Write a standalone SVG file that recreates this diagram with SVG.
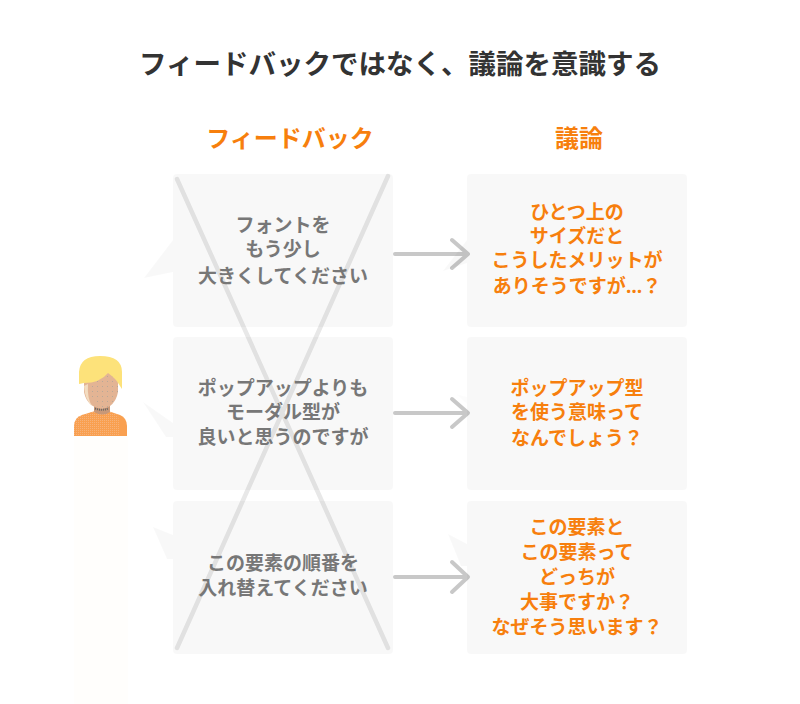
<svg xmlns="http://www.w3.org/2000/svg" width="800" height="704" viewBox="0 0 800 704">
<style>
text{font-family:"Noto Sans CJK JP","Noto Sans",sans-serif;font-weight:700;text-anchor:middle}
.t{font-size:27.5px;fill:#333}
.h{font-size:24px;fill:#f77f0d}
.g{font-size:19px;fill:#777}
.o{font-size:19px;fill:#f77f0d}
.box,.tail{fill:#000;fill-opacity:.028}
.x{stroke:#e8e8e8;stroke-width:4.500;stroke-linecap:round;fill:none}
.arr{stroke:#c8c8c8;stroke-width:4;fill:none;stroke-linecap:round;stroke-linejoin:round}
</style>
<defs>
<pattern id="dots" width="5" height="5" patternUnits="userSpaceOnUse"><rect x="2" y="1" width="1" height="1" fill="#b8a898"/></pattern>
<pattern id="mesh" width="2" height="2" patternUnits="userSpaceOnUse"><rect width="1" height="1" fill="#f7b27a"/></pattern>
</defs>
<rect width="800" height="704" fill="#fff"/>
<g id="connectors">
<path class="x" d="M177 179L388 648M388 176L177 648"/>
<g class="arr">
<path d="M395 254H467M452 240L468 254L452 268"/>
<path d="M395 413H467M452 399L468 413L452 427"/>
<path d="M395 577H467M452 562L468 577L452 592"/>
</g>
</g>
<text class="t" x="400" y="74">フィードバックではなく、議論を意識する</text>
<text class="h" x="290" y="147">フィードバック</text>
<text class="h" x="579" y="147">議論</text>
<g id="person">
<rect x="74" y="436" width="54" height="268" fill="#fffefc"/>
<path d="M74 436V426Q74 418 82 415L95 411H108L120 415Q127 418 127 426V436Z" fill="#f9a050"/>
<path d="M74 436V426Q74 418 82 415L95 411H108L118 415Q120 425 120 436Z" fill="url(#mesh)"/>
<path d="M94 404H110V412Q103 417 94 412Z" fill="#c89878"/>
<path d="M84 382V392Q87 407 102 409Q115 407 118 392V376L108 372L88 378Z" fill="#e3b494"/>
<path d="M90 382V392Q92 405 102 409Q115 407 118 392V376L108 372Z" fill="url(#dots)"/>
<path d="M84 386Q85 400 92 406Q87 398 88 384Z" fill="#f3dcc0"/>
<path d="M95 408.500Q102 411 108 408.500" stroke="#666" stroke-width="2" stroke-dasharray="1 1" fill="none"/>
<path d="M79 384V372Q80 356 100 356Q122 356 122 372V389L118 383Q116 379 108 373Q100 383 84 383Z" fill="#fde27a"/>
</g>
<g id="fb1"><path class="tail" d="M144 278L173 240V272Z"/><rect class="box" x="173" y="174" width="220" height="153" rx="4"/>
<text class="g" x="283" y="232">フォントを</text><text class="g" x="283" y="256">もう少し</text><text class="g" x="283" y="283">大きくしてください</text></g>
<g id="fb2"><path class="tail" d="M143 402L173 423V437H166Z"/><rect class="box" x="173" y="337" width="220" height="153" rx="4"/>
<text class="g" x="283" y="395">ポップアップよりも</text><text class="g" x="283" y="419">モーダル型が</text><text class="g" x="283" y="444">良いと思うのですが</text></g>
<g id="fb3"><path class="tail" d="M153 527L173 535V559H167Z"/><rect class="box" x="173" y="501" width="220" height="153" rx="4"/>
<text class="g" x="283" y="570">この要素の順番を</text><text class="g" x="283" y="595">入れ替えてください</text></g>
<g id="d1"><path class="tail" d="M443 271L467 240V263Z"/><rect class="box" x="467" y="174" width="220" height="153" rx="4"/>
<text class="o" x="577" y="219">ひとつ上の</text><text class="o" x="577" y="243">サイズだと</text><text class="o" x="577" y="267">こうしたメリットが</text><text class="o" x="577" y="293">ありそうですが<tspan font-family="Noto Sans">…</tspan>？</text></g>
<g id="d2"><path class="tail" d="M456 394L467 397V404Z" style="fill-opacity:.012"/><rect class="box" x="467" y="337" width="220" height="153" rx="4"/>
<text class="o" x="577" y="395">ポップアップ型</text><text class="o" x="577" y="419">を使う意味って</text><text class="o" x="577" y="445">なんでしょう？</text></g>
<g id="d3"><path class="tail" d="M448 534L467 544V566H461Z"/><rect class="box" x="467" y="501" width="220" height="153" rx="4"/>
<text class="o" x="577" y="534">この要素と</text><text class="o" x="577" y="559">この要素って</text><text class="o" x="577" y="584">どっちが</text><text class="o" x="577" y="609">大事ですか？</text><text class="o" x="577" y="634">なぜそう思います？</text></g>
</svg>
